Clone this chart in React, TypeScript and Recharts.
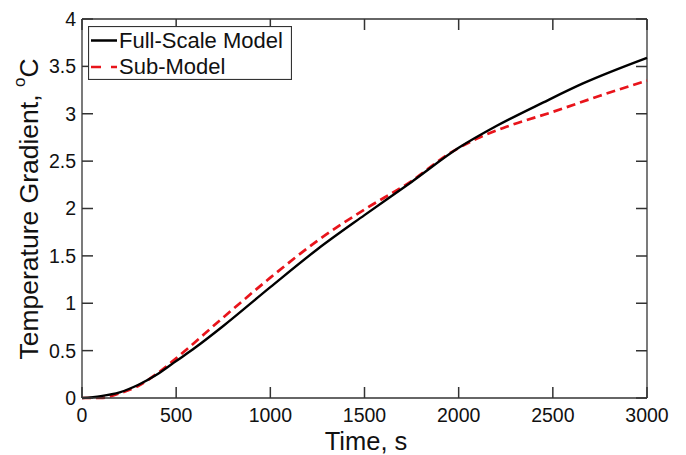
import React from "react";
import { LineChart, Line, XAxis, YAxis, Legend, Label, ReferenceLine } from "recharts";

const fullTime = [0, 100, 200, 300, 400, 500, 600, 750, 1000, 1250, 1500, 1750, 2000, 2200, 2450, 2660, 3000];
const fullValue = [0, 0.02, 0.06, 0.14, 0.25, 0.39, 0.53, 0.76, 1.17, 1.57, 1.93, 2.28, 2.64, 2.87, 3.12, 3.32, 3.59];

const subTime = [0, 100, 200, 300, 400, 500, 750, 1000, 1250, 1500, 1750, 1950, 2100, 2250, 2500, 2750, 3000];
const subValue = [0, 0.0, 0.05, 0.13, 0.26, 0.42, 0.85, 1.27, 1.66, 1.99, 2.29, 2.58, 2.74, 2.86, 3.02, 3.19, 3.35];

const xTicks = [0, 500, 1000, 1500, 2000, 2500, 3000];
const yTicks = [0, 0.5, 1, 1.5, 2, 2.5, 3, 3.5, 4];

const seriesNames = ["Full-Scale Model", "Sub-Model"];

const fullData = fullTime.map((t, i) => ({ t, v: fullValue[i] }));
const subData = subTime.map((t, i) => ({ t, v: subValue[i] }));

const X_MIN = 0;
const X_MAX = 3000;
const Y_MIN = 0;
const Y_MAX = 4;
const TICK_DX = ((X_MAX - X_MIN) * 11) / 565;
const TICK_DY = ((Y_MAX - Y_MIN) * 11) / 379;

type P = { t: number; v: number | null };
const xTickSegs = (base: number, dir: number): P[] =>
  xTicks.flatMap((t) => [{ t, v: base }, { t, v: base + dir * TICK_DY }, { t, v: null }]);
const yTickSegs = (base: number, dir: number): P[] =>
  yTicks.flatMap((v) => [{ t: base, v }, { t: base + dir * TICK_DX, v }, { t: base + dir * TICK_DX, v: null }]);

const tickTop = xTickSegs(Y_MAX, -1);
const tickRight = yTickSegs(X_MAX, -1);

const FONT = "'Liberation Sans', Arial, sans-serif";
const AXIS = "#333";
const TICK_W = 1.5;
const TICK_LEN = 11;

const renderBottomTick = (props: any) => {
  const { x, y, payload } = props;
  return (
    <g>
      <line x1={x} y1={y - 10} x2={x} y2={y - 10 - TICK_LEN} stroke={AXIS} strokeWidth={TICK_W} />
      <text x={x} y={y} dy="0.71em" textAnchor="middle" fontFamily={FONT} fontSize={19.5} fill="#111">
        {payload.value}
      </text>
    </g>
  );
};

const renderLeftTick = (props: any) => {
  const { x, y, payload } = props;
  return (
    <g>
      <line x1={x + 6} y1={y} x2={x + 6 + TICK_LEN} y2={y} stroke={AXIS} strokeWidth={TICK_W} />
      <text x={x} y={y} dy="0.355em" textAnchor="end" fontFamily={FONT} fontSize={19.5} fill="#111">
        {payload.value}
      </text>
    </g>
  );
};

const LegendBox = () => (
  <svg width={204} height={54} style={{ display: "block" }}>
    <rect x={0.5} y={0.5} width={203} height={53} fill="#fff" stroke={AXIS} strokeWidth={1.2} />
    <line x1={3} y1={14.5} x2={29} y2={14.5} stroke="#000" strokeWidth={2.5} />
    <text x={31} y={22} fontFamily={FONT} fontSize={22} fill="#111">{seriesNames[0]}</text>
    <line x1={3} y1={41} x2={29} y2={41} stroke="#e8141b" strokeWidth={2.6} strokeDasharray="10 10" />
    <text x={31} y={48} fontFamily={FONT} fontSize={22} fill="#111">{seriesNames[1]}</text>
  </svg>
);

const YLabel = () => (
  <text
    x={29}
    y={209}
    transform="rotate(-90 29 209)"
    textAnchor="middle"
    dominantBaseline="central"
    fontFamily={FONT}
    fontSize={26.5}
    fill="#111"
  >
    Temperature Gradient,{" "}
    <tspan fontSize={17} dy={-10}>o</tspan>
    <tspan dy={10}>C</tspan>
  </text>
);

const refProps = { xAxisId: "b", yAxisId: "l", stroke: AXIS, strokeWidth: 1.3, ifOverflow: "visible" as const };

const tickLineProps = {
  xAxisId: "b",
  yAxisId: "l",
  dataKey: "v",
  type: "linear" as const,
  stroke: AXIS,
  strokeWidth: TICK_W,
  dot: false,
  activeDot: false,
  connectNulls: false,
  legendType: "none" as const,
  isAnimationActive: false,
};

export default function App() {
  return (
    <div style={{ position: "absolute", left: 0, top: 0, background: "#fff" }}>
      <LineChart width={686} height={455} margin={{ top: 19, right: 39, left: 0, bottom: 0 }}>
        <XAxis
          xAxisId="b"
          dataKey="t"
          type="number"
          domain={[X_MIN, X_MAX]}
          ticks={xTicks}
          height={57}
          tickSize={0}
          tickMargin={10}
          tick={renderBottomTick}
          tickLine={false}
          axisLine={{ stroke: AXIS, strokeWidth: 1.3 }}
        >
          <Label
            content={() => (
              <text x={366} y={450} textAnchor="middle" fontFamily={FONT} fontSize={25.5} fill="#111">
                Time, s
              </text>
            )}
          />
        </XAxis>
        <YAxis
          yAxisId="l"
          type="number"
          domain={[Y_MIN, Y_MAX]}
          ticks={yTicks}
          width={82}
          tickSize={0}
          tickMargin={6}
          tick={renderLeftTick}
          tickLine={false}
          axisLine={{ stroke: AXIS, strokeWidth: 1.3 }}
        >
          <Label content={() => <YLabel />} />
        </YAxis>

        <ReferenceLine {...refProps} y={Y_MAX} />
        <ReferenceLine {...refProps} x={X_MAX} />

        <Line {...tickLineProps} data={tickTop} name="tt" />
        <Line {...tickLineProps} data={tickRight} name="tr" />

        <Line
          xAxisId="b"
          yAxisId="l"
          data={subData}
          dataKey="v"
          name={seriesNames[1]}
          type="monotone"
          stroke="#e8141b"
          strokeWidth={2.7}
          strokeDasharray="9 5"
          dot={false}
          activeDot={false}
          isAnimationActive={false}
        />
        <Line
          xAxisId="b"
          yAxisId="l"
          data={fullData}
          dataKey="v"
          name={seriesNames[0]}
          type="monotone"
          stroke="#000"
          strokeWidth={2.4}
          dot={false}
          activeDot={false}
          isAnimationActive={false}
        />
        <Legend
          layout="horizontal"
          verticalAlign="middle"
          align="center"
          content={() => <LegendBox />}
          wrapperStyle={{ left: 88, top: 26, width: 204, height: 54 }}
        />
      </LineChart>
    </div>
  );
}
